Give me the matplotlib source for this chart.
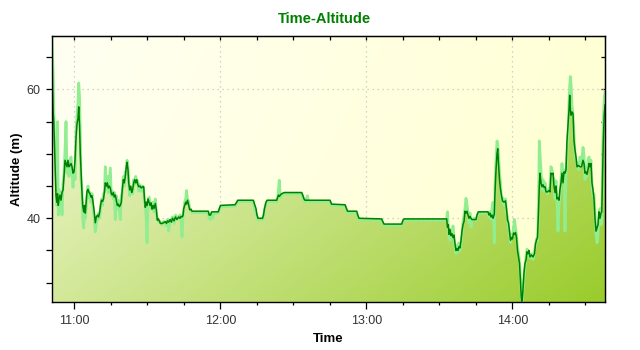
import numpy as np
import matplotlib
matplotlib.use("Agg")
import matplotlib.pyplot as plt
from matplotlib.ticker import MultipleLocator, FuncFormatter

# minutes after 11:00
minutes = [
    -9.17, -8.92, -8.67, -8.43, -8.14, -7.81, -7.52, -7.19, -6.90, -6.58,
    -6.29, -5.88, -5.47, -5.06, -4.64, -4.23, -3.82, -3.41, -3.00, -2.59,
    -2.18, -1.77, -1.36, -0.95, -0.53, -0.12, 0.29, 0.70, 1.11, 1.52,
    1.81, 2.14, 2.47, 2.75, 3.16, 3.45, 3.86, 4.19, 4.52, 4.89,
    5.22, 5.63, 6.04, 6.45, 6.86, 7.27, 7.69, 8.10, 8.63, 9.04,
    9.54, 9.95, 10.36, 10.77, 11.18, 11.59, 12.00, 12.41, 12.74, 13.15,
    13.56, 13.97, 14.39, 14.80, 15.21, 15.62, 16.03, 16.44, 16.85, 17.26,
    17.67, 18.08, 18.50, 18.91, 19.32, 19.73, 20.14, 20.55, 20.96, 21.37,
    21.66, 22.07, 22.36, 22.77, 23.18, 23.59, 24.00, 24.41, 24.82, 25.24,
    25.65, 26.06, 26.47, 27.00, 27.54, 28.11, 28.52, 28.85, 29.18, 29.55,
    29.88, 30.29, 30.70, 31.11, 31.52, 31.93, 32.35, 32.76, 33.29, 33.70,
    34.11, 34.61, 35.35, 36.04, 36.66, 37.40, 37.89, 38.31, 38.80, 39.33,
    39.87, 40.36, 40.98, 41.59, 42.21, 42.91, 43.44, 43.85, 44.26, 44.68,
    44.96, 45.37, 45.78, 46.11, 46.53, 47.02, 47.43, 47.96, 48.37,
    53.72, 55.07, 55.44, 55.98, 56.47, 57.00, 57.41, 59.18, 59.60, 60.09,
    66.05, 66.75, 67.16, 73.57, 74.06, 74.68, 75.09, 75.50, 77.35, 77.76,
    78.17, 78.79, 79.20, 83.19, 83.60, 83.93, 84.26, 84.67, 85.16, 86.31,
    93.46, 93.87, 94.41, 94.82, 95.85, 96.26, 105.09, 105.71, 111.26, 111.87,
    112.29, 116.07, 116.48, 117.01, 126.34, 126.88, 127.29, 134.56, 135.10, 135.51,
    152.77,
    153.06, 153.39, 153.71, 154.00, 154.41, 154.82, 155.23, 155.65, 156.06, 156.47,
    156.88, 157.29, 157.70, 158.11, 158.52, 158.93, 159.34, 159.76, 160.17, 160.58,
    160.99, 161.40, 161.81, 162.22, 162.63, 163.04, 163.45, 164.28, 165.10, 165.51,
    166.04, 170.03, 170.44, 170.85, 171.26, 171.67, 172.09, 172.62, 172.91, 173.32,
    173.73, 174.02, 174.35, 174.76, 175.17, 175.58, 175.99, 176.61, 177.22, 177.63,
    178.05, 178.46, 178.87, 179.28, 179.69, 180.10, 180.51, 180.92, 181.33, 181.74,
    182.16, 182.57, 182.98, 183.39, 183.68, 183.88, 184.13, 184.42, 184.83, 185.24,
    185.65, 186.06, 186.47, 186.88, 187.29, 187.91, 188.53, 189.14, 189.55, 189.96,
    190.38, 190.79, 191.12, 191.40, 191.81, 192.22, 192.64, 193.05, 193.46, 193.87,
    194.49, 195.10, 195.51, 195.92, 196.33, 196.75, 197.16, 197.57, 197.98, 198.39,
    198.80, 199.21, 199.62, 200.03, 200.44, 200.86, 201.27, 201.68, 202.09, 202.50,
    202.91, 203.32, 203.61, 203.86, 204.14, 204.55, 204.97, 205.38, 205.79, 206.20,
    206.61, 207.23, 207.84, 208.46, 209.08, 209.49, 209.90, 210.31, 210.72, 211.13,
    211.54, 211.95, 212.36, 212.77, 213.19, 213.60, 214.01, 214.42, 214.83, 215.24,
    215.65, 216.06, 216.47, 216.80, 217.09, 217.42, 217.79, 218.12,
]

alt_dark = [
    68.3, 60.0, 56.3, 55.0, 51.0, 47.0, 43.5, 42.5, 43.8, 42.0,
    43.0, 43.6, 42.8, 44.0, 44.4, 46.5, 49.0, 48.5, 48.0, 49.0,
    48.0, 48.2, 48.5, 48.0, 47.0, 47.2, 49.0, 52.5, 54.7, 55.5,
    57.3, 54.5, 50.0, 47.5, 44.0, 42.0, 41.0, 42.0, 40.8, 42.5,
    44.2, 44.5, 44.0, 43.8, 43.3, 43.5, 42.5, 41.3, 39.3, 40.2,
    40.5, 40.2, 40.8, 42.0, 42.8, 42.6, 43.0, 44.2, 45.5, 45.0,
    45.5, 44.7, 45.0, 44.7, 43.8, 43.6, 44.0, 43.3, 43.6, 42.8,
    42.0, 42.2, 41.8, 42.0, 42.5, 44.5, 46.0, 45.5, 46.5, 48.0,
    48.7, 47.5, 45.5, 44.4, 45.0, 44.0, 44.5, 45.5, 46.0, 45.5,
    46.0, 45.3, 44.9, 45.0, 44.7, 44.9, 44.9, 43.0, 41.7, 42.5,
    42.0, 43.0, 42.5, 42.0, 42.4, 41.4, 42.0, 41.5, 42.3, 41.4,
    39.7, 39.9, 39.2, 39.2, 39.3, 39.5, 39.2, 39.6, 39.4, 39.8,
    39.4, 40.0, 39.6, 40.2, 39.8, 40.2, 40.0, 40.3, 40.2, 40.4,
    41.5, 42.0, 42.5, 42.2, 42.8, 42.0, 41.3, 41.4, 41.1,
    41.1, 41.1, 40.5, 40.5, 41.0, 41.0, 41.0, 41.0, 41.5, 42.0,
    42.1, 42.5, 42.8, 42.8, 42.2, 41.5, 40.5, 40.0, 40.0, 40.5,
    41.5, 42.5, 42.8, 42.8, 43.3, 43.6, 43.4, 43.6, 43.8, 44.0,
    44.0, 43.6, 43.0, 42.8, 42.8, 42.8, 42.8, 42.2, 42.1, 41.5,
    41.1, 41.1, 40.5, 40.0, 39.9, 39.4, 39.1, 39.1, 39.7, 39.9,
    39.9,
    39.9, 38.6, 39.0, 37.5, 38.3, 37.3, 37.6, 37.0, 37.4, 36.0,
    35.0, 35.3, 35.0, 35.6, 35.4, 36.5, 38.0, 39.0, 39.5, 41.1,
    40.8, 41.1, 40.5, 40.0, 40.3, 40.0, 39.8, 39.8, 39.8, 40.5,
    41.0, 41.0, 40.5, 40.8, 40.2, 40.5, 40.0, 40.6, 44.0, 47.5,
    50.0, 50.8, 48.5, 46.0, 44.5, 43.5, 42.7, 42.5, 42.7, 41.5,
    39.7, 39.3, 38.0, 36.6, 37.0, 36.8, 37.7, 37.5, 37.8, 37.0,
    35.0, 34.0, 33.0, 30.0, 28.0, 27.1, 27.5, 29.0, 31.5, 33.0,
    33.5, 34.8, 34.5, 35.0, 34.0, 34.3, 34.0, 34.5, 36.0, 36.6,
    37.0, 41.0, 45.0, 47.0, 45.5, 44.9, 45.2, 44.8, 44.9, 44.1,
    44.1, 44.3, 44.1, 47.0, 46.8, 47.0, 45.0, 44.0, 45.0, 43.0,
    43.2, 42.8, 44.5, 45.5, 47.0, 45.5, 47.2, 47.0, 47.5, 52.1,
    54.5, 56.8, 59.1, 57.0, 56.0, 56.5, 56.3, 52.0, 50.6, 49.5,
    48.0, 48.2, 48.0, 48.0, 49.0, 48.5, 47.0, 47.2, 46.8, 47.5,
    48.5, 48.0, 48.5, 45.5, 44.4, 43.0, 40.0, 38.0, 38.5, 39.0,
    41.0, 40.0, 40.8, 41.0, 46.0, 52.0, 56.0, 57.6,
]

alt_light = [
    68.3, 65.0, 62.0, 57.0, 52.5, 51.0, 48.0, 42.0, 55.0, 40.5,
    44.5, 42.0, 44.0, 40.5, 45.5, 47.0, 50.5, 55.0, 47.0, 48.5,
    46.5, 49.0, 49.5, 47.5, 44.8, 47.5, 46.0, 53.5, 56.0, 58.0,
    61.0, 59.0, 53.0, 46.0, 44.5, 40.0, 38.5, 41.0, 40.0, 41.5,
    43.5, 45.0, 43.2, 44.0, 42.5, 43.8, 41.5, 40.5, 37.9, 39.0,
    40.2, 40.8, 40.0, 41.5, 43.0, 42.0, 43.8, 44.0, 48.0, 44.5,
    46.5, 44.0, 46.0, 47.8, 43.5, 44.2, 43.0, 44.0, 39.8, 43.5,
    41.5, 42.8, 41.0, 39.8, 43.5, 44.0, 46.5, 45.0, 47.2, 47.5,
    49.0, 48.0, 46.0, 43.5, 44.5, 44.8, 43.8, 46.0, 45.2, 46.5,
    45.5, 45.8, 44.2, 45.2, 44.2, 45.0, 44.6, 42.5, 42.0, 40.0,
    36.2, 42.5, 43.3, 42.5, 41.5, 41.8, 42.5, 41.0, 43.0, 40.8,
    40.0, 39.5, 39.5, 39.0, 39.5, 39.2, 38.8, 39.8, 38.0, 39.5,
    39.8, 40.2, 39.2, 40.5, 40.0, 40.3, 40.5, 39.8, 37.1, 40.5,
    41.0, 42.5, 43.0, 44.3, 43.0, 42.5, 41.6, 41.2, 40.9,
    40.9, 40.9, 40.0, 39.8, 40.8, 40.0, 40.8, 40.8, 41.3, 41.8,
    41.9, 42.3, 42.6, 42.6, 41.5, 40.8, 40.3, 39.8, 39.8, 40.3,
    41.3, 42.3, 42.6, 42.6, 43.2, 44.5, 45.9, 43.2, 43.6, 43.8,
    43.8, 43.4, 42.8, 42.5, 43.5, 42.6, 42.6, 42.0, 41.9, 41.3,
    40.9, 40.9, 40.3, 39.8, 39.7, 39.2, 38.9, 38.9, 39.5, 39.7,
    39.7,
    39.9, 41.0, 38.5, 37.2, 36.5, 38.0, 37.0, 38.8, 36.8, 35.5,
    34.5, 35.8, 34.8, 36.2, 35.0, 35.8, 37.5, 39.5, 40.5, 41.5,
    43.1, 42.0, 41.0, 39.3, 40.8, 38.6, 39.6, 40.0, 39.6, 40.3,
    40.8, 40.8, 40.2, 41.0, 39.8, 41.5, 42.5, 36.2, 45.0, 49.0,
    52.0, 51.5, 50.0, 47.0, 45.5, 42.8, 43.2, 42.0, 43.0, 41.0,
    40.2, 38.5, 37.8, 36.2, 37.5, 37.0, 38.5, 39.8, 38.5, 37.5,
    35.5, 34.5, 33.2, 30.8, 28.5, 27.2, 27.1, 28.8, 31.0, 32.5,
    34.0, 35.2, 35.0, 34.3, 33.8, 34.5, 33.6, 34.8, 35.8, 36.8,
    36.5, 42.0, 52.0, 50.0, 47.5, 44.5, 46.0, 44.2, 45.5, 44.5,
    43.8, 44.6, 44.8, 48.0, 47.5, 46.5, 46.0, 43.0, 45.8, 42.5,
    38.0, 42.0, 43.5, 46.0, 48.5, 46.0, 47.5, 38.0, 46.5, 50.0,
    52.5, 58.0, 60.5, 62.0, 61.0, 57.5, 56.0, 53.0, 50.0, 49.0,
    48.5, 47.5, 49.5, 48.5, 51.0, 49.8, 46.0, 48.0, 46.5, 49.0,
    49.5, 48.5, 49.0, 45.0, 43.5, 43.8, 40.5, 37.5, 36.2, 37.0,
    40.5, 41.5, 39.0, 40.0, 48.0, 55.0, 58.5, 59.6,
]

hours = 11 + np.array(minutes) / 60.0
x_lo, x_hi = hours.min(), hours.max()
y_lo, y_hi = 27.0, 68.3

plt.rcParams['font.family'] = ['Liberation Sans', 'DejaVu Sans']

fig = plt.figure(figsize=(6.4, 3.5), dpi=100)
ax = fig.add_axes([52 / 640, 48 / 350, 553 / 640, 266 / 350])

# gradient helpers (row 0 = top)
gx, gy = np.meshgrid(np.linspace(0, 1, 300), np.linspace(0, 1, 150))

bg0 = np.array([1.0, 1.0, 0.95])
bg1 = np.array([1.0, 1.0, 0.81])
bg_t = 0.8 * gx + 0.2 * gy
bg = bg0 + (bg1 - bg0) * bg_t[..., None]
ax.imshow(bg, extent=[x_lo, x_hi, y_lo, y_hi], aspect='auto',
          origin='upper', zorder=0, interpolation='bilinear')

f0 = np.array([0.97, 0.98, 0.87])
f1 = np.array([0.60, 0.80, 0.17])
fill_t = 0.62 * gx + 0.38 * gy
fill = f0 + (f1 - f0) * fill_t[..., None]
area = ax.fill_between(hours, alt_dark, y_lo, color='none', lw=0)
img = ax.imshow(fill, extent=[x_lo, x_hi, y_lo, y_hi], aspect='auto',
                origin='upper', zorder=1, interpolation='bilinear')
img.set_clip_path(area.get_paths()[0], transform=ax.transData)

ax.plot(hours, alt_light, color='#90ee90', lw=2.0, zorder=2)
ax.plot(hours, alt_dark, color='#008000', lw=1.1, zorder=3)

ax.set_xlim(x_lo, x_hi)
ax.set_ylim(y_lo, y_hi)

ax.grid(True, which='major', color='#c4c4c4', linestyle=(0, (1, 3)), lw=0.9)
ax.set_axisbelow(True)

def hhmm(h, pos):
    hh = int(h)
    mm = int(round((h - hh) * 60))
    return f"{hh:02d}:{mm:02d}"

ax.xaxis.set_major_locator(MultipleLocator(1))
ax.xaxis.set_minor_locator(MultipleLocator(0.25))
ax.xaxis.set_major_formatter(FuncFormatter(hhmm))
ax.yaxis.set_major_locator(MultipleLocator(20))
ax.yaxis.set_minor_locator(MultipleLocator(5))

ax.tick_params(axis='x', which='major', direction='out', length=5, width=0.9,
               labelsize=9, labelcolor='#333333', pad=4)
ax.tick_params(axis='x', which='minor', direction='out', length=2.5, width=0.9)
ax.tick_params(axis='y', which='both', direction='out', length=4, width=0.9,
               labelsize=9, labelcolor='#333333', pad=4.5)

for sp in ax.spines.values():
    sp.set_color('black')
    sp.set_linewidth(1.0)
    sp.set_zorder(4)

top = ax.secondary_xaxis('top')
top.xaxis.set_major_locator(MultipleLocator(1))
top.xaxis.set_minor_locator(MultipleLocator(0.25))
top.tick_params(which='both', direction='in', length=3, width=0.9, labeltop=False)
right = ax.secondary_yaxis('right')
right.yaxis.set_major_locator(MultipleLocator(20))
right.yaxis.set_minor_locator(MultipleLocator(5))
right.tick_params(which='both', direction='in', length=3, width=0.9, labelright=False)

fig.text(324 / 640, 1 - 19 / 350, "Time-Altitude", color='#008000',
         fontsize=10.5, fontweight='bold', ha='center', va='center')
fig.text(328.5 / 640, 1 - 339 / 350, "Time", color='black',
         fontsize=9.5, fontweight='bold', ha='center', va='center')
fig.text(17.5 / 640, 1 - 169 / 350, "Altitude (m)", color='black',
         fontsize=9.5, fontweight='bold', ha='center', va='center', rotation=90)

fig.savefig("out.png", dpi=100)
